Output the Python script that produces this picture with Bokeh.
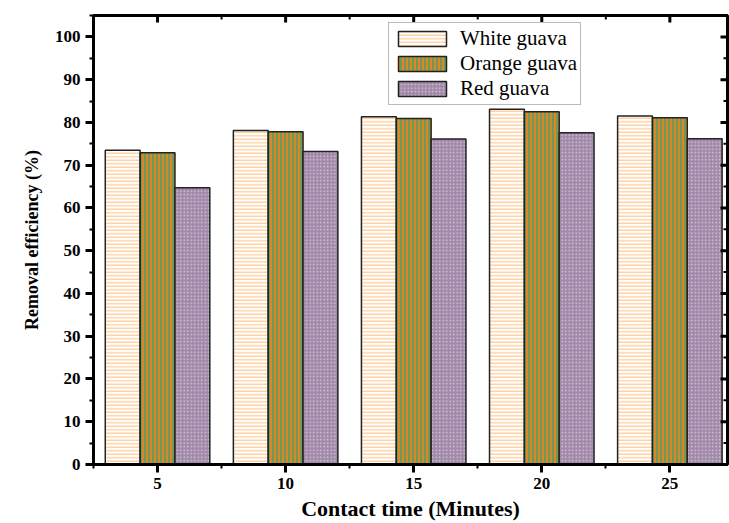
import math
from bokeh.plotting import figure
from bokeh.models import ColumnDataSource, Range1d, FixedTicker, Legend, LegendItem
from bokeh.transform import dodge
from bokeh.embed import file_html
from bokeh.resources import INLINE

times = [5, 10, 15, 20, 25]
white_guava = [73.5, 78.1, 81.3, 83.1, 81.5]
orange_guava = [72.9, 77.8, 80.9, 82.5, 81.1]
red_guava = [64.7, 73.2, 76.1, 77.6, 76.2]
x_major = [5, 10, 15, 20, 25]
x_minor = [2.5, 7.5, 12.5, 17.5, 22.5, 27.5]
y_major = [0, 10, 20, 30, 40, 50, 60, 70, 80, 90, 100]
y_minor = [5, 15, 25, 35, 45, 55, 65, 75, 85, 95, 105]

X0, X1, Y0, Y1 = 2.5, 27.25, 0, 105

src = ColumnDataSource(dict(t=times, w=white_guava, o=orange_guava, r=red_guava))

p = figure(width=729, height=523, output_backend="svg", toolbar_location=None,
           x_range=Range1d(X0, X1), y_range=Range1d(Y0, Y1),
           min_border_left=93, min_border_bottom=58, min_border_top=15,
           min_border_right=2)
p.background_fill_color = "white"
p.border_fill_color = "white"
p.grid.visible = False
p.outline_line_color = "black"
p.outline_line_width = 3

bw = 1.36
rw = p.vbar(x=dodge("t", -bw, range=p.x_range), top="w", width=bw, source=src,
            fill_color="white", line_color="#222222", line_width=1.5,
            hatch_pattern="horizontal_line", hatch_color="#FFC890",
            hatch_scale=3.5, hatch_weight=1.2)
ro = p.vbar(x=dodge("t", 0, range=p.x_range), top="o", width=bw, source=src,
            fill_color="#6E9A55", line_color="#222222", line_width=1.5,
            hatch_pattern="vertical_line", hatch_color="#F58220",
            hatch_scale=4, hatch_weight=1.6)
rr = p.vbar(x=dodge("t", bw, range=p.x_range), top="r", width=bw, source=src,
            fill_color="#A088A8", line_color="#222222", line_width=1.5,
            hatch_pattern="dot", hatch_color="#D8C8DC",
            hatch_scale=3.5, hatch_weight=1)

# inward ticks on the top and right frame edges (clipped to the frame)
p.scatter(x=x_major, y=[Y1] * len(x_major), marker="dash", angle=math.pi / 2,
          size=14, line_width=3, line_color="black")
p.scatter(x=x_minor, y=[Y1] * len(x_minor), marker="dash", angle=math.pi / 2,
          size=8, line_width=2, line_color="black")
p.scatter(x=[X1] * len(y_major), y=y_major, marker="dash",
          size=14, line_width=3, line_color="black")
p.scatter(x=[X1] * len(y_minor), y=y_minor, marker="dash",
          size=8, line_width=2, line_color="black")

font = "Liberation Serif"

xa = p.xaxis[0]
xa.ticker = FixedTicker(ticks=x_major, minor_ticks=x_minor)
xa.axis_label = "Contact time (Minutes)"
ya = p.yaxis[0]
ya.ticker = FixedTicker(ticks=y_major, minor_ticks=y_minor)
ya.axis_label = "Removal efficiency (%)"

for ax in (xa, ya):
    ax.axis_line_width = 3
    ax.axis_line_color = "black"
    ax.major_tick_line_width = 3
    ax.minor_tick_line_width = 2
    ax.major_tick_in = 0
    ax.minor_tick_in = 0
    ax.major_tick_out = 8
    ax.minor_tick_out = 4
    ax.major_label_text_font = font
    ax.major_label_text_font_style = "bold"
    ax.major_label_text_font_size = "17px"
    ax.major_label_text_color = "black"
    ax.axis_label_text_font = font
    ax.axis_label_text_font_style = "bold"
    ax.axis_label_text_color = "black"
xa.axis_label_text_font_size = "22px"
ya.axis_label_text_font_size = "18px"
xa.major_label_standoff = 5
xa.axis_label_standoff = 4
ya.major_label_standoff = 5
ya.axis_label_standoff = 10

legend = Legend(items=[LegendItem(label="White guava", renderers=[rw]),
                       LegendItem(label="Orange guava", renderers=[ro]),
                       LegendItem(label="Red guava", renderers=[rr])],
                location=(295, 359))
legend.label_text_font = font
legend.label_text_font_size = "21px"
legend.label_text_color = "black"
legend.label_height = 19
legend.glyph_width = 60
legend.glyph_height = 19
legend.spacing = 0
legend.padding = 3
legend.margin = 0
legend.label_standoff = 8
legend.border_line_color = "#777777"
legend.border_line_width = 1.5
legend.background_fill_alpha = 1
p.add_layout(legend, "center")

open("out.html", "w").write(file_html(p, INLINE))
